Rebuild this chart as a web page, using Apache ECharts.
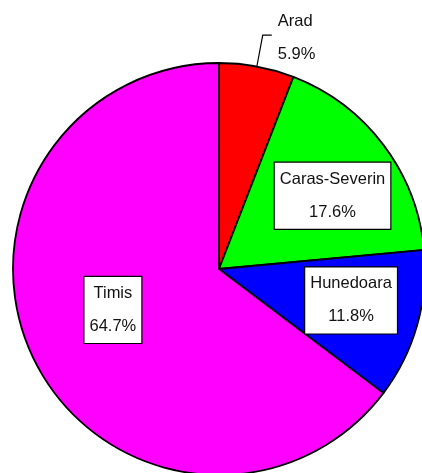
<!DOCTYPE html>
<html>
<head>
<meta charset="utf-8">
<script src="https://cdn.jsdelivr.net/npm/echarts@6/dist/echarts.min.js"></script>
<style>
  html, body { margin: 0; padding: 0; background: #ffffff; }
  #chart { width: 422px; height: 473px; }
</style>
</head>
<body>
<div id="chart"></div>
<script>
// Data
const categories = ['Arad', 'Caras-Severin', 'Hunedoara', 'Timis'];
const values = [1, 3, 2, 11];
const colors = ['#ff0000', '#00ff00', '#0000ff', '#ff00ff'];

// label styling (radius fraction and angular nudge for boxed inside labels)
const labelRadius = [null, 0.656, 0.659, 0.552];
const labelAngleShift = [0, 4.2, -2.5, 5.4];

const CX = 219, CY = 269, R = 206;
const total = values.reduce((a, b) => a + b, 0);

function pct(v) { return (v / total * 100).toFixed(1) + '%'; }

const chart = echarts.init(document.getElementById('chart'), null, { renderer: 'canvas' });

const data = categories.map((name, i) => {
  const item = {
    name: name,
    value: values[i],
    itemStyle: { color: colors[i] }
  };
  if (i === 0) {
    item.label = {
      position: 'outside',
      formatter: '{b}\n' + pct(values[i]),
      lineHeight: 33
    };
    item.labelLine = { show: true, length: 32, length2: 9, lineStyle: { color: '#000', width: 1.2 } };
  } else {
    item.label = {
      position: 'inside',
      formatter: '{b}\n' + pct(values[i]),
      backgroundColor: '#ffffff',
      borderColor: '#000000',
      borderWidth: 1.2,
      padding: [0, 5, 0, 5],
      lineHeight: 33,
      align: 'center'
    };
    item.labelLine = { show: false };
  }
  return item;
});

chart.setOption({
  animation: false,
  backgroundColor: '#ffffff',
  series: [{
    type: 'pie',
    center: [CX, CY],
    radius: [0, R],
    startAngle: 90,
    clockwise: true,
    avoidLabelOverlap: false,
    silent: true,
    label: {
      show: true,
      fontFamily: 'Liberation Sans, Arial, sans-serif',
      fontSize: 16.5,
      color: '#111',
      distanceToLabelLine: 6
    },
    itemStyle: { borderColor: '#000000', borderWidth: 1.8 },
    labelLayout: function (p) {
      const i = p.dataIndex;
      if (i === 0) return { dy: 3 };
      let before = 0;
      for (let k = 0; k < i; k++) before += values[k];
      const mid = (before + values[i] / 2) / total * 360 + labelAngleShift[i];
      const rad = mid * Math.PI / 180;
      const r = R * labelRadius[i];
      return {
        x: CX + r * Math.sin(rad),
        y: CY - r * Math.cos(rad),
        align: 'center',
        verticalAlign: 'middle'
      };
    },
    data: data
  }]
});
</script>
</body>
</html>
